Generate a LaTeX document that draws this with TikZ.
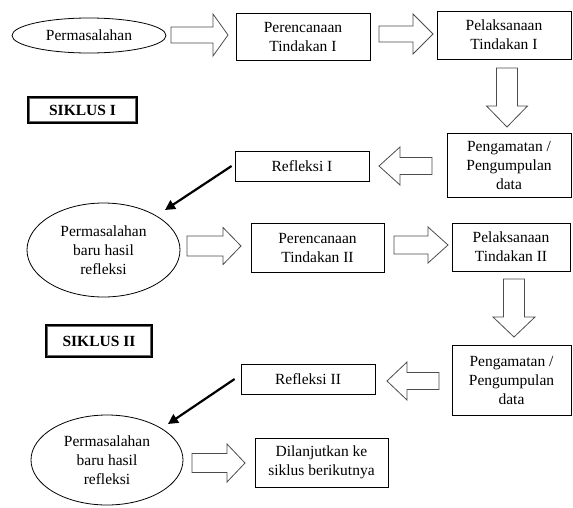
\documentclass[tikz,border=0pt]{standalone}
\usepackage{fontspec}
\setmainfont{Liberation Serif}
\usetikzlibrary{shapes.geometric,arrows.meta}
\newcommand\hblockarrow[6]{\draw[blockarr] (#1,{#4-#5}) -- (#2,{#4-#5}) -- (#2,{#4-#6}) -- (#3,#4) -- (#2,{#4+#6}) -- (#2,{#4+#5}) -- (#1,{#4+#5}) -- cycle;}
\newcommand\vblockarrow[6]{\draw[blockarr] ({#4-#5},#1) -- ({#4-#5},#2) -- ({#4-#6},#2) -- (#4,#3) -- ({#4+#6},#2) -- ({#4+#5},#2) -- ({#4+#5},#1) -- cycle;}
\begin{document}
\begin{tikzpicture}[x=1pt,y=-1pt,
  txt/.style={font=\fontsize{15.5}{19}\selectfont},
  box/.style={txt, draw, line width=0.8pt, rectangle, inner sep=0pt, align=center},
  oval/.style={txt, draw, line width=0.8pt, ellipse, inner sep=0pt, align=center},
  blockarr/.style={draw=black!70, line width=0.8pt, fill=white, line join=miter},
  sik/.style={draw, line width=1.8pt, rectangle, inner sep=0pt, font=\fontsize{15.5}{19}\selectfont\bfseries},
  inner/.style={draw=black!60, line width=0.5pt},
  blackarr/.style={line width=2.2pt, -{Triangle[length=10pt,width=10pt]}}
]
\useasboundingbox (0,0) rectangle (573,507);
% row 1
\node[oval, minimum width=154pt, minimum height=35pt] (e1) at (89,35.5) {Permasalahan};
\node[box, minimum width=134pt, minimum height=47pt] (p1) at (303,36.5) {Perencanaan\\Tindakan I};
\node[box, minimum width=134pt, minimum height=48pt] (l1) at (504,35) {Pelaksanaan\\Tindakan I};
\node[sik, minimum width=109pt, minimum height=26pt] (s1) at (82.5,110) {SIKLUS I};
\draw[inner] ([shift={(2.6pt,-2.6pt)}]s1.north west) rectangle ([shift={(-2.6pt,2.6pt)}]s1.south east);
\node[box, minimum width=124pt, minimum height=64pt] (g1) at (509,165) {Pengamatan /\\Pengumpulan\\data};
\node[box, minimum width=134pt, minimum height=30pt] (r1) at (302,166) {Refleksi I};
% cycle 2
\node[oval, minimum width=153pt, minimum height=94pt] (e2) at (103.5,250) {Permasalahan\\baru hasil\\refleksi};
\node[box, minimum width=133pt, minimum height=49pt] (p2) at (317.5,247.5) {Perencanaan\\Tindakan II};
\node[box, minimum width=118pt, minimum height=48pt] (l2) at (511,247) {Pelaksanaan\\Tindakan II};
\node[sik, minimum width=106pt, minimum height=32pt] (s2) at (99,341) {SIKLUS II};
\draw[inner] ([shift={(2.6pt,-2.6pt)}]s2.north west) rectangle ([shift={(-2.6pt,2.6pt)}]s2.south east);
\node[box, minimum width=119pt, minimum height=70pt] (g2) at (511.5,380) {Pengamatan /\\Pengumpulan\\data};
\node[box, minimum width=134pt, minimum height=30pt] (r2) at (308,379) {Refleksi II};
\node[oval, minimum width=152pt, minimum height=90pt] (e3) at (107,460) {Permasalahan\\baru hasil\\refleksi};
\node[box, minimum width=133pt, minimum height=49pt] (d) at (321.5,462.5) {Dilanjutkan ke\\siklus berikutnya};
% block arrows
\hblockarrow{171}{213}{228}{35}{8}{21}
\hblockarrow{379}{413}{433}{34}{8}{20}
\vblockarrow{68}{106}{127}{507}{10.5}{20.5}
\hblockarrow{432}{400}{379}{166}{8.5}{19}
\hblockarrow{187}{223}{241}{246}{10}{18.5}
\hblockarrow{394}{428}{448}{245}{9}{18}
\vblockarrow{279}{317}{337}{514}{10.5}{21}
\hblockarrow{439}{407}{387}{381}{8.5}{19}
\hblockarrow{192}{227}{245}{463}{9.5}{19}
% black arrows
\coordinate (t1) at (165,210);
\coordinate (t2) at (168,424);
\draw[blackarr] ([xshift=-3pt]r1.west) -- (t1);
\draw[blackarr] ([xshift=-6pt]r2.west) -- (t2);
\end{tikzpicture}
\end{document}
